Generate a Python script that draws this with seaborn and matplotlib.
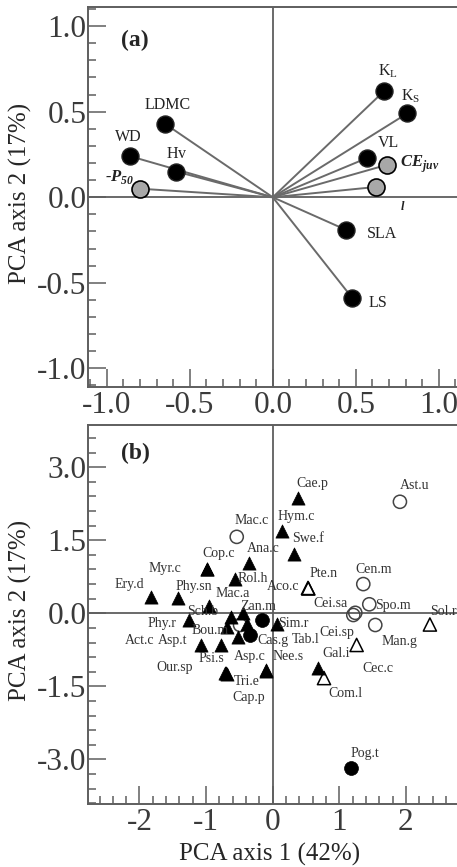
import matplotlib.pyplot as plt
from matplotlib.ticker import MultipleLocator
import pandas as pd
import seaborn as sns

# (a) trait loadings on PCA axes 1 and 2
traits = ["KL", "KS", "VL", "CEjuv", "l", "SLA", "LS", "LDMC", "WD", "Hv", "P50"]
trait_text = [r"K$_\mathregular{L}$", r"K$_\mathregular{S}$", "VL", r"CE$_\mathregular{juv}$", "l",
              "SLA", "LS", "LDMC", "WD", r"H$\mathregular{v}$", r"-P$_\mathregular{50}$"]
trait_pc1 = [0.67, 0.81, 0.57, 0.69, 0.62, 0.44, 0.48, -0.65, -0.86, -0.58, -0.80]
trait_pc2 = [0.62, 0.49, 0.23, 0.19, 0.06, -0.19, -0.59, 0.43, 0.24, 0.15, 0.05]
trait_kind = ["trait", "trait", "trait", "extra", "extra", "trait", "trait",
              "trait", "trait", "trait", "extra"]

# (b) species scores
species = ["Cae.p", "Hym.c", "Swe.f", "Ana.c", "Cop.c", "Myr.c", "Rol.h", "Ery.d", "Phy.sn",
           "Mac.a", "Sch.b", "Zan.m", "Bou.m", "", "Phy.r", "Asp.t", "Act.c", "Psi.s",
           "Tri.e", "Our.sp", "Cap.p", "Asp.c", "Nee.s", "Sim.r", "Gal.i",
           "Tab.l", "Cas.g", "Pog.t",
           "Ast.u", "Mac.c", "Cen.m", "Spo.m", "Cei.sa", "Cec.c", "Man.g", " ",
           "Pte.n", "Aco.c", "Sol.r", "Cei.sp", "Com.l"]
sp_pc1 = [0.38, 0.14, 0.32, -0.36, -0.98, -0.99, -0.57, -1.82, -1.42,
          -0.95, -0.62, -0.44, -0.69, -0.39, -1.26, -1.07, -0.77, -0.52,
          -0.70, -0.71, -0.69, -0.105, -0.10, 0.06, 0.685,
          -0.165, -0.34, 1.17,
          1.91, -0.54, 1.36, 1.45, 1.21, 1.24, 1.54, -0.49,
          0.535, 0.53, 2.36, 1.26, 0.77]
sp_pc2 = [2.36, 1.68, 1.22, 1.04, 0.92, 0.91, 0.70, 0.33, 0.31,
          0.14, -0.07, 0.0, -0.28, -0.21, -0.14, -0.65, -0.65, -0.48,
          -1.23, -1.22, -1.24, -1.18, -1.17, -0.21, -1.12,
          -0.14, -0.45, -3.18,
          2.29, 1.57, 0.60, 0.185, -0.035, 0.01, -0.24, -0.24,
          0.51, 0.52, -0.23, -0.65, -1.33]
sp_group = ["tri_f"] * 25 + ["circ_f"] * 3 + ["circ_o"] * 8 + ["tri_o"] * 5

# label offsets in pixels (dx, dy)
trait_off = {"KL": (4, 20), "KS": (3, 17), "VL": (21, 15), "CEjuv": (13, 0), "l": (27, -20),
             "SLA": (36, -4), "LS": (26, -5), "LDMC": (3, 19), "WD": (-2, 19), "Hv": (0, 18),
             "P50": (-20, 12)}
sp_off = {"Cae.p": (14, 15), "Hym.c": (14, 15), "Swe.f": (14, 15), "Ana.c": (15, 14),
          "Cop.c": (11, 15), "Myr.c": (-42, 0), "Rol.h": (18, 1), "Ery.d": (-22, 13),
          "Phy.sn": (16, 12), "Mac.a": (23, 13), "Sch.b": (-29, 5), "Zan.m": (15, 7),
          "Bou.m": (-17, -4), "Phy.r": (-27, -3), "Asp.t": (-29, 4), "Act.c": (-82, 4),
          "Psi.s": (-27, -22), "Tri.e": (21, -8), "Our.sp": (-51, 5), "Cap.p": (22, -24),
          "Asp.c": (-16, 14), "Nee.s": (22, 14), "Sim.r": (17, 0), "Gal.i": (18, 14),
          "Tab.l": (44, -19), "Cas.g": (23, -5), "Pog.t": (14, 15), "Ast.u": (15, 16),
          "Mac.c": (15, 16), "Cen.m": (10, 15), "Spo.m": (24, -1), "Cei.sa": (-23, 12),
          "Cec.c": (23, -56), "Man.g": (24, -17), "Pte.n": (15, 15), "Aco.c": (-25, 1),
          "Sol.r": (13, 13), "Cei.sp": (-20, 12), "Com.l": (21, -15)}

df_a = pd.DataFrame({"trait": traits, "pc1": trait_pc1, "pc2": trait_pc2, "kind": trait_kind})
df_b = pd.DataFrame({"sp": species, "pc1": sp_pc1, "pc2": sp_pc2, "group": sp_group})

sns.set_style("ticks")
plt.rcParams["font.family"] = ["Liberation Serif", "DejaVu Serif"]
plt.rcParams["axes.unicode_minus"] = False

GRAY = "#5e5e5e"
fig = plt.figure(figsize=(4.57, 8.67), dpi=100)
ax_a = fig.add_axes([88 / 457, 480 / 867, 371 / 457, 380 / 867])
ax_b = fig.add_axes([88 / 457, 63 / 867, 371 / 457, 379 / 867])


def style_axes(ax, major, minor):
    for sp in ax.spines.values():
        sp.set_color(GRAY)
        sp.set_linewidth(1.4)
    ax.axhline(0, color=GRAY, lw=1.3, zorder=1)
    ax.axvline(0, color=GRAY, lw=1.3, zorder=1)
    ax.xaxis.set_major_locator(MultipleLocator(major[0]))
    ax.xaxis.set_minor_locator(MultipleLocator(minor[0]))
    ax.yaxis.set_major_locator(MultipleLocator(major[1]))
    ax.yaxis.set_minor_locator(MultipleLocator(minor[1]))
    ax.tick_params(which="both", direction="in", top=False, right=False,
                   color=GRAY, width=1.1, labelcolor="#3a3a3a", labelsize=22.5)
    ax.tick_params(which="major", length=13)
    ax.tick_params(which="minor", length=6)
    ax.tick_params(axis="y", pad=1)
    ax.tick_params(axis="x", pad=3)
    ax.set_ylabel("PCA axis 2 (17%)", fontsize=18)
    ax.yaxis.set_label_coords(-0.15, 0.51)


# ---- panel (a)
for x, y in zip(trait_pc1, trait_pc2):
    ax_a.plot([0, x], [0, y], color="#6a6a6a", lw=1.4, zorder=2)
sns.scatterplot(data=df_a[df_a.kind == "trait"], x="pc1", y="pc2", ax=ax_a, s=150,
                color="black", edgecolor="#222222", linewidth=1, zorder=3)
sns.scatterplot(data=df_a[df_a.kind == "extra"], x="pc1", y="pc2", ax=ax_a, s=150,
                color="#a8a8a8", edgecolor="black", linewidth=1.2, zorder=3)
for t, txt, x, y, kind in zip(traits, trait_text, trait_pc1, trait_pc2, trait_kind):
    dx, dy = trait_off[t]
    kw = dict(fontsize=11.5, color="#222222")
    if kind == "extra":
        kw.update(fontweight="bold", style="italic", fontsize=9 if t == "l" else 12)
    ax_a.annotate(txt, (x, y), xytext=(dx, dy), textcoords="offset pixels",
                  ha="left" if t == "CEjuv" else "center", va="center", **kw)
ax_a.set_xlim(-1.113, 1.122)
ax_a.set_ylim(-1.109, 1.112)
style_axes(ax_a, (0.5, 0.5), (0.1, 0.1))
ax_a.set_xlabel("")
ax_a.text(0.127, 0.913, "(a)", transform=ax_a.transAxes, fontsize=17, fontweight="bold",
          ha="center", va="center")

# ---- panel (b)
marker_style = {
    "tri_o": dict(marker="^", s=90, facecolor="none", edgecolor="black", linewidth=1.1),
    "circ_o": dict(marker="o", s=90, facecolor="none", edgecolor="#444444", linewidth=1.1),
    "tri_f": dict(marker="^", s=90, color="black", edgecolor="black", linewidth=0.5),
    "circ_f": dict(marker="o", s=100, color="black", edgecolor="black", linewidth=0.5),
}
for g, kw in marker_style.items():
    sns.scatterplot(data=df_b[df_b.group == g], x="pc1", y="pc2", ax=ax_b, zorder=3, **kw)
for name, x, y in zip(species, sp_pc1, sp_pc2):
    if name.strip() == "":
        continue
    dx, dy = sp_off[name]
    ax_b.annotate(name, (x, y), xytext=(dx, dy), textcoords="offset pixels",
                  ha="center", va="center", fontsize=10, color="#333333", zorder=4)
ax_b.set_xlim(-2.773, 2.797)
ax_b.set_ylim(-3.916, 3.867)
style_axes(ax_b, (1, 1.5), (0.2, 0.3))
ax_b.yaxis.set_major_formatter(plt.FormatStrFormatter("%.1f"))
ax_b.set_xlabel("PCA axis 1 (42%)", fontsize=18)
ax_b.xaxis.set_label_coords(0.49, -0.103)
ax_b.text(0.127, 0.926, "(b)", transform=ax_b.transAxes, fontsize=17, fontweight="bold",
          ha="center", va="center")

plt.savefig("out.png", dpi=100)
